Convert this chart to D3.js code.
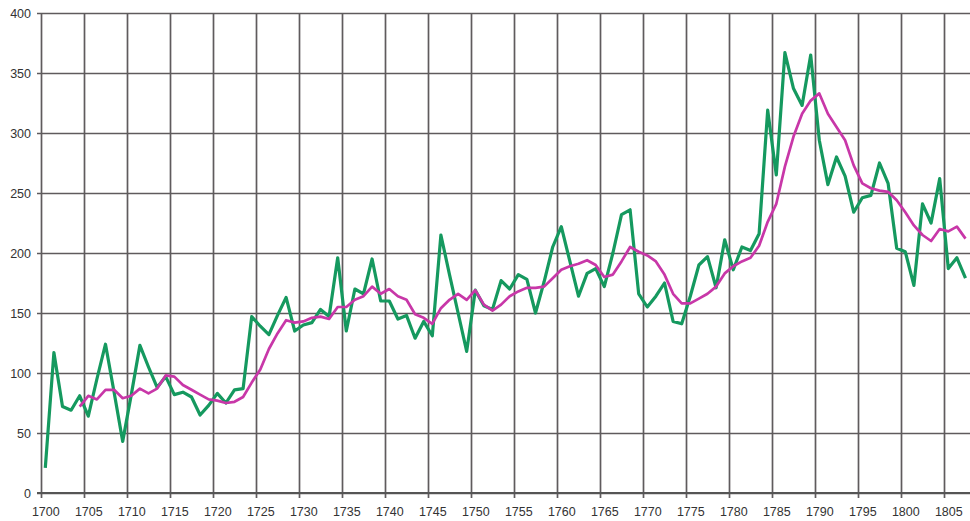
<!DOCTYPE html>
<html>
<head>
<meta charset="utf-8">
<script src="https://cdn.jsdelivr.net/npm/d3@7"></script>
<style>
  body { margin: 0; background: #fff; }
  svg { display: block; font-family: "Liberation Sans", Arial, sans-serif; }
  .tick text { fill: #333; }
</style>
</head>
<body>
<svg></svg>
<script>
// yearly series, 1700 .. 1807
const startYear = 1700;
const annual = [
  21, 117, 72, 69, 81, 64, 95, 124, 84, 43,
  82, 123, 105, 88, 97, 82, 84, 80, 65, 73,
  83, 75, 86, 87, 147, 139, 132, 148, 163, 135,
  140, 142, 153, 147, 196, 135, 170, 166, 195, 160,
  160, 145, 148, 129, 143, 131, 215, 182, 150, 118,
  169, 156, 153, 177, 170, 182, 178, 150, 176, 205,
  222, 193, 164, 183, 187, 172, 200, 232, 236, 166,
  155, 164, 175, 143, 141, 164, 190, 197, 171, 211,
  186, 205, 202, 216, 319, 265, 367, 337, 323, 365,
  294, 257, 280, 264, 234, 246, 248, 275, 258, 204,
  201, 173, 241, 225, 262, 187, 196, 179
];
// smoothed series starts in 1704
const smoothStart = 1704;
const smoothed = [
  72, 81, 78, 86, 86, 79,
  81, 87, 83, 87, 98, 97, 90, 86, 82, 78,
  77, 75, 76, 80, 92, 103, 120, 133, 144, 142,
  143, 146, 147, 145, 155, 155, 161, 164, 172, 166,
  170, 164, 161, 149, 146, 141, 154, 161, 166, 161,
  169, 157, 152, 157, 164, 168, 171, 171, 172, 179,
  186, 189, 191, 194, 190, 180, 182, 193, 205, 201,
  198, 193, 182, 166, 158, 158, 162, 166, 172, 183,
  189, 193, 196, 206, 226, 241, 272, 297, 316, 327,
  333, 316, 305, 294, 273, 258, 254, 252, 251, 244,
  234, 223, 215, 210, 220, 218, 222, 212
];
const xTicks = d3.range(1700, 1806, 5);
const yTicks = [0, 50, 100, 150, 200, 250, 300, 350, 400];

const width = 970, height = 521;
const margin = {top: 13, right: 0, bottom: 28, left: 41};
const innerWidth = width - margin.left - margin.right;
const innerHeight = height - margin.top - margin.bottom;

const svg = d3.select('svg')
  .attr('width', width)
  .attr('height', height);

const g = svg.append('g')
  .attr('transform', `translate(${margin.left},${margin.top})`);

const xScale = d3.scaleLinear()
  .domain([1700, 1808])
  .range([0, 108 * 8.6]);

const yScale = d3.scaleLinear()
  .domain([0, 400])
  .range([innerHeight, 0]);

const gridColor = '#5f5b5d';

// horizontal grid + y labels
const yAxisG = g.append('g')
  .call(d3.axisLeft(yScale).tickValues(yTicks).tickSize(-innerWidth).tickPadding(10));
yAxisG.select('.domain').remove();
yAxisG.selectAll('.tick line')
  .attr('x1', -4)
  .attr('stroke', gridColor)
  .attr('stroke-width', 1.7);
yAxisG.selectAll('.tick text')
  .attr('font-size', 12.5)
  .attr('x', -10);

// vertical grid + x labels (labels centred on the year)
const xAxisG = g.append('g')
  .attr('transform', `translate(0,${innerHeight})`)
  .call(d3.axisBottom(xScale).tickValues(xTicks).tickFormat(d3.format('d')).tickSizeInner(-innerHeight).tickPadding(12));
xAxisG.select('.domain').remove();
xAxisG.selectAll('.tick line')
  .attr('y1', 5)
  .attr('stroke', gridColor)
  .attr('stroke-width', 1.7);
xAxisG.selectAll('.tick text')
  .attr('font-size', 12.5)
  .attr('dx', 4.3)
  .attr('y', 14);

// bottom axis line
g.append('line')
  .attr('x1', -4).attr('x2', innerWidth)
  .attr('y1', innerHeight).attr('y2', innerHeight)
  .attr('stroke', '#555')
  .attr('stroke-width', 2);

const line = d3.line()
  .x(d => xScale(d[0] + 0.5))
  .y(d => yScale(d[1]));

g.append('path')
  .attr('d', line(annual.map((v, i) => [startYear + i, v])))
  .attr('fill', 'none')
  .attr('stroke', '#15995f')
  .attr('stroke-width', 3.2)
  .attr('stroke-linejoin', 'round');

g.append('path')
  .attr('d', line(smoothed.map((v, i) => [smoothStart + i, v])))
  .attr('fill', 'none')
  .attr('stroke', '#c837a8')
  .attr('stroke-width', 2.7)
  .attr('stroke-linejoin', 'round');
</script>
</body>
</html>
